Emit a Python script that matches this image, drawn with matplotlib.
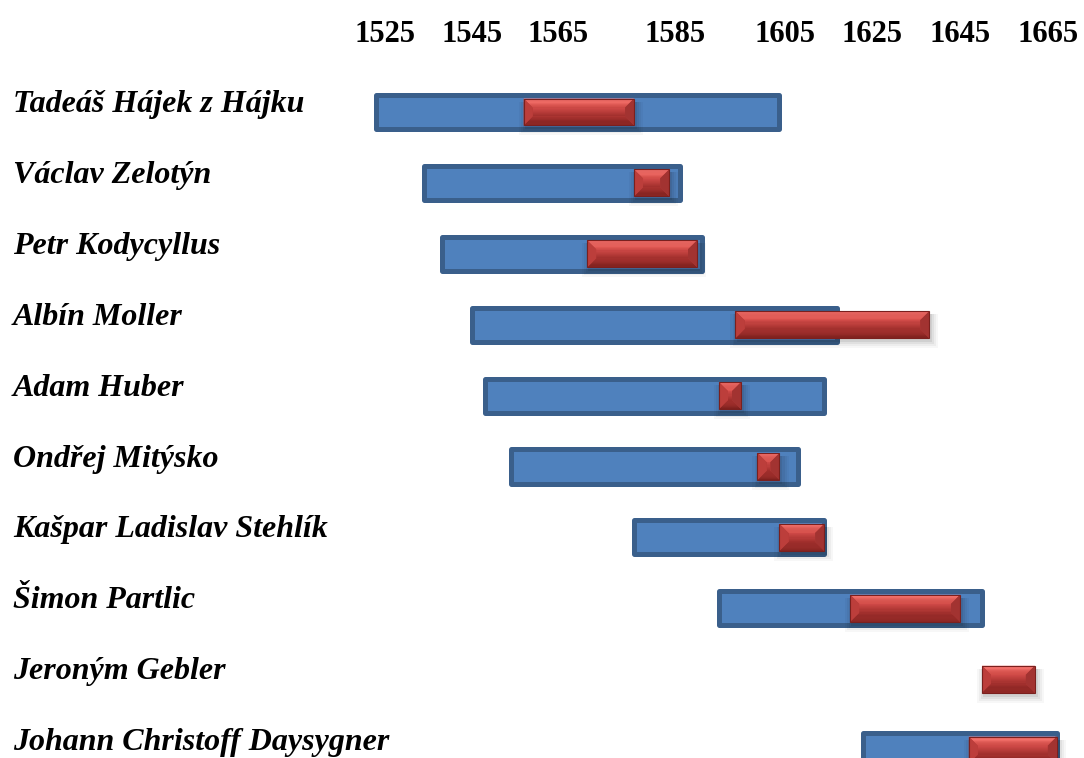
import numpy as np
import matplotlib.pyplot as plt
from matplotlib.patches import Polygon
from matplotlib.transforms import blended_transform_factory

names = [
    "Tadeáš Hájek z Hájku",
    "Václav Zelotýn",
    "Petr Kodycyllus",
    "Albín Moller",
    "Adam Huber",
    "Ondřej Mitýsko",
    "Kašpar Ladislav Stehlík",
    "Šimon Partlic",
    "Jeroným Gebler",
    "Johann Christoff Daysygner",
]
# lifetime (blue) and active period (red), in years
life_start = [1523, 1534, 1538, 1545, 1548, 1554, 1578, 1593, np.nan, 1623]
life_end = [1604, 1586, 1590, 1617, 1614, 1608, 1614, 1650, np.nan, 1667]
work_start = [1557, 1578, 1570, 1596, 1593, 1600, 1604, 1620, 1650, 1647]
work_end = [1578, 1584, 1589, 1638, 1597, 1604, 1614, 1645, 1662, 1667]

tick_years = [1525, 1545, 1565, 1585, 1605, 1625, 1645, 1665]
# the year axis is drawn uneven: where each labelled year sits across the sheet
tick_spots = [385, 472, 558, 675, 785, 872, 960, 1048]

W, H = 1084, 758
SERIF = ["Liberation Serif", "DejaVu Serif"]


def piecewise(xp, fp):
    xp = np.asarray(xp, float)
    fp = np.asarray(fp, float)
    lo = (fp[1] - fp[0]) / (xp[1] - xp[0])
    hi = (fp[-1] - fp[-2]) / (xp[-1] - xp[-2])

    def f(v):
        v = np.asarray(v, dtype=float)
        out = np.interp(v, xp, fp)
        out = np.where(v < xp[0], fp[0] + (v - xp[0]) * lo, out)
        out = np.where(v > xp[-1], fp[-1] + (v - xp[-1]) * hi, out)
        return out
    return f


fwd = piecewise(tick_years, tick_spots)
inv = piecewise(tick_spots, tick_years)

fig = plt.figure(figsize=(W / 100, H / 100), dpi=100)
ax = fig.add_axes([0, 0, 1, 1])
ax.set_xscale("function", functions=(fwd, inv))
ax.set_xlim(float(inv(0.0)), float(inv(W)))
row_px, row0 = 70.9, 112.0
ax.set_ylim((H - row0) / row_px, -row0 / row_px)
ax.axis("off")

rows = np.arange(len(names))

# blue lifetime bars
ls = np.array(life_start, float)
le = np.array(life_end, float)
ok = ~np.isnan(ls)
ax.barh(rows[ok], le[ok] - ls[ok], left=ls[ok], height=0.48,
        color="#4F81BD", edgecolor="#3A5F8B", linewidth=3.6,
        joinstyle="round", zorder=2)

to_px = ax.transData.transform
to_data = ax.transData.inverted().transform


def poly(pts, **kw):
    ax.add_patch(Polygon(to_data(np.array(pts, float)), closed=True,
                         linewidth=0, **kw))


def mix(c0, c1, t):
    c0, c1 = np.array(c0), np.array(c1)
    return tuple(c0 + (c1 - c0) * t)


def bevel_bar(x0, x1, yc, h=0.38, b=9.0):
    (L, T), (R, B) = to_px([(x0, yc - h / 2), (x1, yc + h / 2)])
    # soft drop shadow
    for k, a in zip([8, 6, 4, 2], [0.03, 0.04, 0.05, 0.07]):
        poly([(L - k + 3, T - 3), (R + k + 1, T - 3),
              (R + k + 1, B - 2 - k), (L - k + 3, B - 2 - k)],
             color="black", alpha=a, zorder=3)
    poly([(L, T), (R, T), (R, B), (L, B)], color="#B83B38", zorder=4)
    n = 8
    # centre face with a vertical shade
    ys = np.linspace(T - b, B + b, n + 1)
    for i in range(n):
        c = mix((0.80, 0.28, 0.27), (0.64, 0.19, 0.18), i / (n - 1))
        poly([(L + b, ys[i]), (R - b, ys[i]), (R - b, ys[i + 1]), (L + b, ys[i + 1])],
             color=c, zorder=5)
    # top bevel, bright near the edge
    ys = np.linspace(T, T - b, n + 1)
    for i in range(n):
        o0, o1 = b * i / n, b * (i + 1) / n
        c = mix((0.98, 0.47, 0.45), (0.86, 0.33, 0.31), i / (n - 1))
        poly([(L + o0, ys[i]), (R - o0, ys[i]), (R - o1, ys[i + 1]), (L + o1, ys[i + 1])],
             color=c, zorder=5)
    # bottom bevel, dark
    ys = np.linspace(B, B + b, n + 1)
    for i in range(n):
        o0, o1 = b * i / n, b * (i + 1) / n
        c = mix((0.50, 0.13, 0.12), (0.62, 0.18, 0.17), i / (n - 1))
        poly([(L + o0, ys[i]), (R - o0, ys[i]), (R - o1, ys[i + 1]), (L + o1, ys[i + 1])],
             color=c, zorder=5)
    poly([(L, T), (L + b, T - b), (L + b, B + b), (L, B)], color="#BC3E3B", zorder=5)
    poly([(R, T), (R - b, T - b), (R - b, B + b), (R, B)], color="#A23331", zorder=5)
    ax.add_patch(Polygon(to_data(np.array([(L, T), (R, T), (R, B), (L, B)])),
                         closed=True, fill=False, edgecolor="#7A201E",
                         linewidth=0.8, zorder=6))


for r, s, e in zip(rows, work_start, work_end):
    bevel_bar(s, e, r)

# names down the left side
name_tr = blended_transform_factory(ax.transAxes, ax.transData)
for r, n in zip(rows, names):
    ax.text(13 / W, r, n, transform=name_tr, ha="left", va="baseline",
            fontsize=23, fontweight="bold", fontstyle="italic", family=SERIF)

# year labels along the top
year_tr = blended_transform_factory(ax.transData, ax.transAxes)
for yr in tick_years:
    ax.text(yr, 1 - 42 / H, str(yr), transform=year_tr, ha="center",
            va="baseline", fontsize=22, fontweight="bold", family=SERIF)

fig.savefig("out.png", dpi=100)
